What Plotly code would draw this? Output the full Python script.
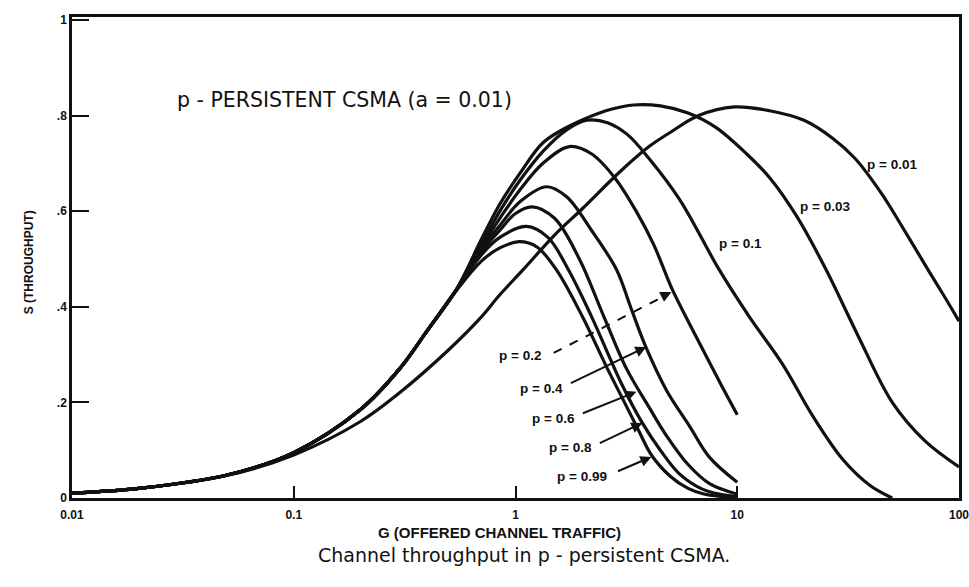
import plotly.graph_objects as go

# Offered traffic G and throughput S for each persistence probability p
g_p001 = [0.01, 0.02, 0.05, 0.1, 0.2, 0.3, 0.5, 0.69, 0.85, 1.08, 1.5, 2, 3, 4, 5, 6.7, 9.7, 14, 20, 27, 34, 45, 55, 73, 85, 100]
s_p001 = [0.01, 0.02, 0.047, 0.09, 0.16, 0.22, 0.31, 0.375, 0.425, 0.477, 0.55, 0.605, 0.685, 0.735, 0.765, 0.8, 0.818, 0.81, 0.79, 0.752, 0.71, 0.635, 0.57, 0.475, 0.425, 0.37]

g_p003 = [0.01, 0.02, 0.05, 0.1, 0.2, 0.3, 0.4, 0.54, 0.7, 0.85, 1.05, 1.33, 1.7, 2.1, 2.7, 3.4, 4.5, 6, 8, 11, 14, 18.5, 25, 35, 50, 70, 100]
s_p003 = [0.01, 0.02, 0.048, 0.095, 0.185, 0.27, 0.35, 0.435, 0.54, 0.615, 0.68, 0.743, 0.775, 0.795, 0.813, 0.822, 0.82, 0.805, 0.775, 0.72, 0.67, 0.59, 0.48, 0.34, 0.2, 0.12, 0.065]

g_p01 = [0.01, 0.02, 0.05, 0.1, 0.2, 0.3, 0.4, 0.54, 0.7, 0.85, 1.05, 1.33, 1.7, 2.1, 2.6, 3.2, 4, 5.5, 8.3, 11.3, 16, 22, 30, 40, 50]
s_p01 = [0.01, 0.02, 0.048, 0.095, 0.185, 0.27, 0.35, 0.435, 0.53, 0.6, 0.665, 0.725, 0.77, 0.79, 0.785, 0.76, 0.71, 0.624, 0.477, 0.38, 0.28, 0.17, 0.08, 0.025, 0.0]

g_p02 = [0.01, 0.02, 0.05, 0.1, 0.2, 0.3, 0.4, 0.54, 0.7, 0.85, 1.05, 1.33, 1.75, 2.2, 2.8, 3.5, 4.2, 5.05, 6, 7, 8.5, 10]
s_p02 = [0.01, 0.02, 0.048, 0.095, 0.185, 0.27, 0.35, 0.435, 0.525, 0.585, 0.645, 0.7, 0.735, 0.72, 0.67, 0.6, 0.53, 0.44, 0.37, 0.31, 0.235, 0.174]

g_p04 = [0.01, 0.02, 0.05, 0.1, 0.2, 0.3, 0.4, 0.54, 0.7, 0.85, 1.05, 1.38, 1.7, 2.2, 2.86, 3.3, 3.87, 4.8, 6.1, 7.5, 10]
s_p04 = [0.01, 0.02, 0.048, 0.095, 0.185, 0.27, 0.35, 0.435, 0.52, 0.57, 0.62, 0.651, 0.63, 0.56, 0.477, 0.4, 0.316, 0.225, 0.15, 0.085, 0.033]

g_p06 = [0.01, 0.02, 0.05, 0.1, 0.2, 0.3, 0.4, 0.54, 0.7, 0.85, 1.0, 1.19, 1.5, 1.94, 2.5, 3.17, 4, 4.8, 6, 7.5, 10]
s_p06 = [0.01, 0.02, 0.048, 0.095, 0.185, 0.27, 0.35, 0.435, 0.515, 0.56, 0.595, 0.609, 0.585, 0.5, 0.38, 0.27, 0.19, 0.13, 0.07, 0.03, 0.008]

g_p08 = [0.01, 0.02, 0.05, 0.1, 0.2, 0.3, 0.4, 0.54, 0.7, 0.85, 1.12, 1.4, 1.72, 2.2, 3, 3.73, 4.5, 5.5, 7, 8.5, 10]
s_p08 = [0.01, 0.02, 0.048, 0.095, 0.185, 0.27, 0.35, 0.435, 0.508, 0.545, 0.568, 0.545, 0.48, 0.38, 0.24, 0.157, 0.1, 0.05, 0.018, 0.007, 0.003]

g_p099 = [0.01, 0.02, 0.05, 0.1, 0.2, 0.3, 0.4, 0.54, 0.7, 0.85, 1.04, 1.25, 1.53, 2, 2.6, 3.1, 3.6, 4.1, 5, 6, 7, 8.5, 10]
s_p099 = [0.01, 0.02, 0.048, 0.095, 0.185, 0.27, 0.35, 0.433, 0.495, 0.523, 0.536, 0.525, 0.477, 0.38, 0.27, 0.2, 0.14, 0.09, 0.045, 0.02, 0.009, 0.003, 0.001]

curves = [
    ("p = 0.01", g_p001, s_p001),
    ("p = 0.03", g_p003, s_p003),
    ("p = 0.1", g_p01, s_p01),
    ("p = 0.2", g_p02, s_p02),
    ("p = 0.4", g_p04, s_p04),
    ("p = 0.6", g_p06, s_p06),
    ("p = 0.8", g_p08, s_p08),
    ("p = 0.99", g_p099, s_p099),
]

x_tick_vals = [0.01, 0.1, 1, 10, 100]
x_tick_text = ["0.01", "0.1", "1", "10", "100"]
y_tick_vals = [0, 0.2, 0.4, 0.6, 0.8, 1]
y_tick_text = ["0", ".2", ".4", ".6", ".8", "1"]

INK = "#111111"
SANS = "Liberation Sans, Arial, sans-serif"
WIDE = "DejaVu Sans, Verdana, sans-serif"

fig = go.Figure()
for name, g, s in curves:
    fig.add_trace(go.Scatter(
        x=g, y=s, mode="lines", name=name,
        line=dict(color=INK, width=3.2, shape="spline", smoothing=1.0),
        showlegend=False, hoverinfo="skip",
    ))

fig.update_layout(
    width=969, height=587,
    margin=dict(l=72, r=10, t=17, b=89),
    paper_bgcolor="white", plot_bgcolor="white",
    font=dict(family=SANS, color=INK),
)

fig.update_xaxes(
    type="log", range=[-2, 2], automargin=False,
    tickvals=x_tick_vals, ticktext=x_tick_text,
    ticks="inside", ticklen=12, tickwidth=2, tickcolor=INK,
    showline=True, linecolor=INK, linewidth=2.5, mirror=True,
    showgrid=False, zeroline=False, ticklabelstandoff=4,
    ticklabeloverflow="allow",
    tickfont=dict(size=12, family=SANS, weight="bold"),
)
fig.update_yaxes(
    range=[0, 1.006], automargin=False,
    tickvals=y_tick_vals, ticktext=y_tick_text,
    ticks="inside", ticklen=17, tickwidth=2, tickcolor=INK,
    showline=True, linecolor=INK, linewidth=2.5, mirror=True,
    showgrid=False, zeroline=False,
    tickfont=dict(size=12, family=SANS, weight="bold"),
)

# Axis titles
fig.add_annotation(
    x=0.4825, y=-0.094, xref="paper", yref="paper", showarrow=False,
    text="<b>G (OFFERED CHANNEL TRAFFIC)</b>",
    font=dict(size=15, family=SANS, color=INK),
)
fig.add_annotation(
    x=-0.0586, y=0.49, xref="paper", yref="paper", showarrow=False, textangle=-90,
    text="<b>S (THROUGHPUT)</b>",
    font=dict(size=12, family=SANS, color=INK),
)

# Chart heading inside the plot area
fig.add_annotation(
    x=0.116, y=0.827, xref="paper", yref="paper", xanchor="left", yanchor="middle",
    text="p - PERSISTENT CSMA (a = 0.01)", showarrow=False,
    font=dict(size=20.5, family=WIDE, color=INK),
)

# Caption under the chart
fig.add_annotation(
    x=0.51, y=-0.1455, xref="paper", yref="paper", showarrow=False,
    text="Channel throughput in p - persistent CSMA.",
    font=dict(size=19, family=WIDE, color=INK),
)

# Curve labels: (text, log10 G of left edge, S)
curve_labels = [
    ("p = 0.01", 1.576, 0.697),
    ("p = 0.03", 1.274, 0.609),
    ("p = 0.1", 0.909, 0.533),
    ("p = 0.2", -0.083, 0.299),
    ("p = 0.4", 0.011, 0.230),
    ("p = 0.6", 0.065, 0.167),
    ("p = 0.8", 0.142, 0.105),
    ("p = 0.99", 0.178, 0.044),
]
for text, lx, ly in curve_labels:
    fig.add_annotation(
        x=lx, y=ly, xanchor="left", yanchor="middle", showarrow=False,
        text="<b>" + text + "</b>", font=dict(size=13.5, family=SANS, color=INK),
    )

# Leader arrows from the labels to their curves: (log10 G tip, S tip, ax px, ay px)
leaders = [
    (0.703, 0.431, -10, 5),
    (0.590, 0.316, -77, 37),
    (0.545, 0.222, -55, 22),
    (0.572, 0.157, -44, 21),
    (0.613, 0.086, -35, 15),
]
for tx, ty, ax, ay in leaders:
    fig.add_annotation(
        x=tx, y=ty, ax=ax, ay=ay, showarrow=True, text="",
        arrowhead=2, arrowsize=1.1, arrowwidth=2, arrowcolor=INK,
    )

# Dashed leader line for the p = 0.2 label
fig.add_shape(
    type="line", xref="paper", yref="paper",
    x0=0.543, y0=0.3015, x1=0.668, y1=0.42,
    line=dict(color=INK, width=2, dash="dash"),
)

fig.write_html("out.html")
